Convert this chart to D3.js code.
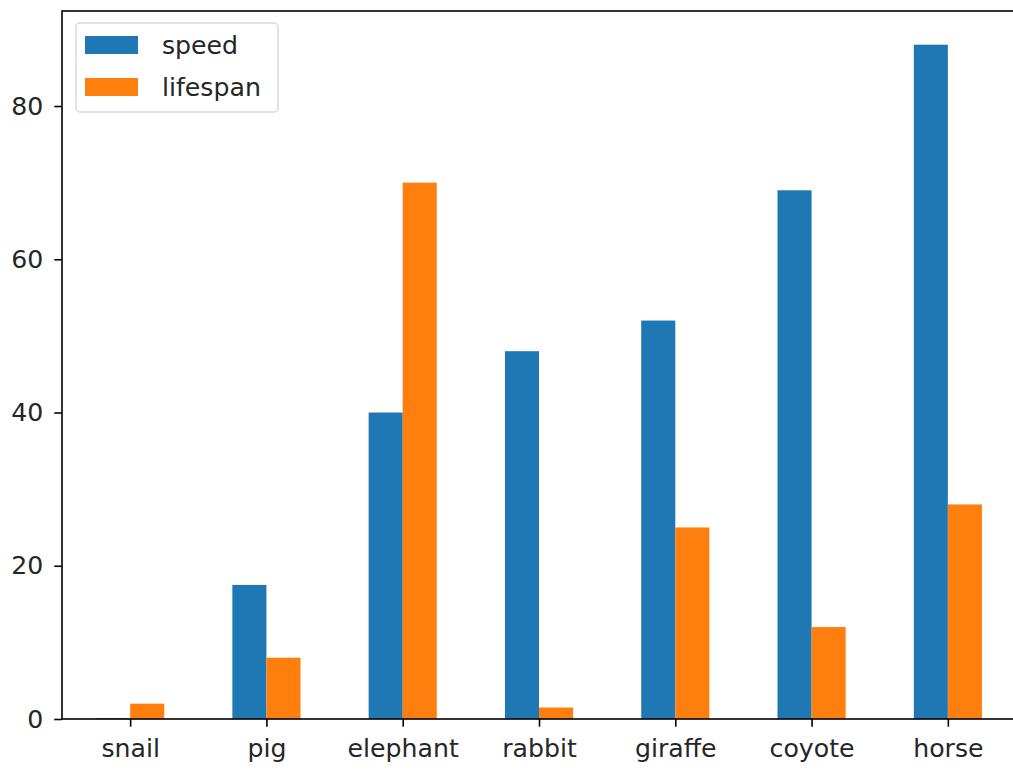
<!DOCTYPE html>
<html>
<head>
<meta charset="utf-8">
<script src="https://cdn.jsdelivr.net/npm/d3@7"></script>
<style>
  body { margin: 0; background: #fff; }
  text { font-family: "DejaVu Sans", sans-serif; fill: #262626; }
</style>
</head>
<body>
<div id="chart"></div>
<script>
// data
const animals = ["snail", "pig", "elephant", "rabbit", "giraffe", "coyote", "horse"];
const speed = [0.1, 17.5, 40, 48, 52, 69, 88];
const lifespan = [2, 8, 70, 1.5, 25, 12, 28];
const yTicks = [0, 20, 40, 60, 80];
const seriesNames = ["speed", "lifespan"];
const colors = ["#1f77b4", "#ff7f0e"];

const width = 1013, height = 770;
const margin = { left: 62, right: -3, top: 11, bottom: 51 };
const fs = 25.2;

const svg = d3.select("#chart").append("svg")
    .attr("width", width)
    .attr("height", height);

// x: categories at 0..6, limits -0.5..6.5 like pandas
const x = d3.scaleLinear()
    .domain([-0.5, animals.length - 0.5])
    .range([margin.left, width - margin.right]);
const y = d3.scaleLinear()
    .domain([0, d3.max(speed) * 1.05])
    .range([height - margin.bottom, margin.top]);

const barW = 0.25;
const series = [speed, lifespan];

series.forEach((vals, s) => {
    svg.append("g").selectAll("rect")
        .data(vals)
        .enter()
        .append("rect")
        .attr("x", (d, i) => x(i - barW + s * barW))
        .attr("width", x(barW) - x(0))
        .attr("y", d => y(d))
        .attr("height", d => y(0) - y(d))
        .attr("fill", colors[s]);
});

// axes
const xAxis = d3.axisBottom(x)
    .tickValues(d3.range(animals.length))
    .tickFormat(i => animals[i])
    .tickSizeOuter(0)
    .tickSize(7.7)
    .tickPadding(12);
const yAxis = d3.axisLeft(y)
    .tickValues(yTicks)
    .tickSizeOuter(0)
    .tickSize(7.7)
    .tickPadding(11);

const gx = svg.append("g")
    .attr("transform", `translate(0,${y(0)})`)
    .call(xAxis);
const gy = svg.append("g")
    .attr("transform", `translate(${margin.left},0)`)
    .call(yAxis);

[gx, gy].forEach(g => {
    g.select(".domain").remove();
    g.selectAll("line").attr("stroke", "#000").attr("stroke-width", 1.6);
    g.selectAll("text").style("font-size", fs + "px").attr("fill", "#262626");
});

// frame
svg.append("rect")
    .attr("x", margin.left)
    .attr("y", margin.top)
    .attr("width", x(animals.length - 0.5) - margin.left)
    .attr("height", y(0) - margin.top)
    .attr("fill", "none")
    .attr("stroke", "#000")
    .attr("stroke-width", 1.6);

// legend
const lg = svg.append("g").attr("transform", "translate(76,23)");
lg.append("rect")
    .attr("width", 202)
    .attr("height", 89)
    .attr("rx", 4)
    .attr("fill", "#fff")
    .attr("fill-opacity", 0.8)
    .attr("stroke", "#d9d9d9")
    .attr("stroke-width", 1.5);
seriesNames.forEach((name, i) => {
    lg.append("rect")
        .attr("x", 9)
        .attr("y", 13 + i * 42)
        .attr("width", 53)
        .attr("height", 18)
        .attr("fill", colors[i]);
    lg.append("text")
        .attr("x", 86)
        .attr("y", 22 + i * 42)
        .attr("dy", "0.35em")
        .style("font-size", fs + "px")
        .text(name);
});
</script>
</body>
</html>
